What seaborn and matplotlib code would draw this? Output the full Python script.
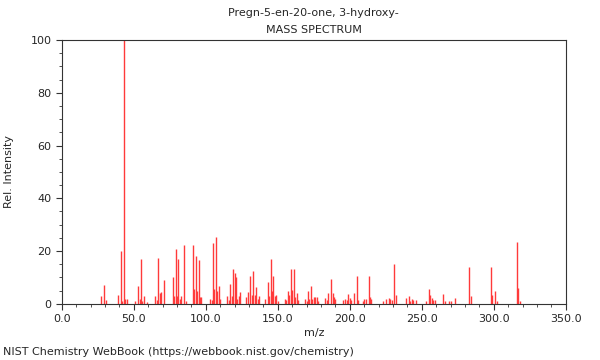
import matplotlib
matplotlib.use("Agg")
import matplotlib.pyplot as plt
import seaborn as sns
import pandas as pd
from matplotlib.ticker import MultipleLocator, FormatStrFormatter

# spectre de masa
mz = [27, 29, 31, 39, 41, 42, 43, 44, 45, 51, 53, 54, 55, 56, 57, 59,
      65, 66, 67, 68, 69, 71, 77, 78, 79, 80, 81, 82, 83, 85, 86,
      91, 92, 93, 94, 95, 96, 97, 103, 104, 105, 106, 107, 108, 109, 110,
      115, 116, 117, 118, 119, 120, 121, 122, 123, 124, 128, 129, 131, 132,
      133, 134, 135, 136, 137, 141, 143, 144, 145, 146, 147, 148, 149, 150,
      155, 156, 157, 158, 159, 160, 161, 162, 163, 164, 169, 170, 171, 172,
      173, 174, 175, 176, 177, 178, 183, 184, 185, 187, 188, 189, 190, 195,
      197, 198, 199, 200, 201, 203, 205, 206, 209, 210, 211, 213, 214, 215,
      223, 225, 227, 228, 229, 231, 232, 239, 241, 242, 243, 244, 246,
      253, 255, 256, 257, 258, 259, 265, 266, 269, 270, 273, 283, 284,
      298, 299, 301, 302, 316, 317, 318]
intens = [3.1, 7.2, 1.3, 3.2, 20.2, 1.2, 100.0, 2.0, 1.8, 1.0, 6.8, 2.0, 16.9, 1.2, 3.0, 0.8,
          3.0, 1.5, 17.3, 4.0, 4.6, 9.1, 10.0, 2.8, 20.7, 3.0, 16.9, 2.0, 3.0, 22.3, 1.0,
          22.3, 5.7, 18.2, 5.0, 16.7, 2.5, 2.5, 2.0, 1.5, 23.2, 5.7, 25.3, 5.0, 6.8, 2.0,
          3.0, 1.5, 7.4, 3.0, 13.3, 11.6, 10.0, 2.0, 3.0, 4.3, 2.5, 4.5, 10.6, 3.4,
          12.3, 3.4, 6.3, 2.0, 3.0, 2.0, 8.2, 3.0, 16.9, 4.8, 10.6, 3.0, 3.4, 1.0,
          1.9, 1.5, 4.9, 3.4, 13.3, 5.3, 13.1, 2.5, 4.0, 1.3, 2.0, 1.0, 4.7, 2.0,
          6.6, 2.0, 2.5, 2.5, 2.5, 1.0, 2.2, 1.5, 4.0, 9.5, 4.0, 2.5, 2.0, 1.6,
          2.0, 1.5, 3.9, 2.3, 1.5, 4.0, 10.7, 1.5, 1.0, 2.0, 2.0, 10.5, 2.5, 2.0,
          1.0, 1.9, 2.3, 2.0, 1.5, 15.2, 3.4, 2.3, 3.0, 1.2, 2.0, 1.5, 1.5,
          1.0, 5.7, 3.4, 2.3, 1.5, 1.5, 3.8, 1.0, 1.2, 1.0, 2.2, 14.1, 3.0,
          14.1, 3.4, 4.9, 1.1, 23.5, 6.0, 1.0]

spectru = pd.DataFrame({'mz': mz, 'intens': intens})

sns.set_style('ticks')
plt.rcParams['font.family'] = ['DejaVu Sans']

fig = plt.figure(figsize=(6, 3.6), dpi=100)
ax = fig.add_axes([0.103, 0.156, 0.84, 0.733])

ax.vlines(spectru['mz'], 0, spectru['intens'], color='#ff3a3a', linewidth=1.0)

ax.set_xlim(0, 350)
ax.set_ylim(0, 100)
ax.xaxis.set_major_locator(MultipleLocator(50))
ax.xaxis.set_minor_locator(MultipleLocator(10))
ax.yaxis.set_major_locator(MultipleLocator(20))
ax.yaxis.set_minor_locator(MultipleLocator(5))
ax.xaxis.set_major_formatter(FormatStrFormatter('%.1f'))
ax.tick_params(which='major', length=4, width=0.8, labelsize=8, color='#333333')
ax.tick_params(which='minor', length=2, width=0.6, color='#333333')
for s in ax.spines.values():
    s.set_visible(True)
    s.set_linewidth(0.8)
    s.set_color('#333333')

ax.set_xlabel('m/z', fontsize=8, labelpad=3)
ax.set_ylabel('Rel. Intensity', fontsize=8, labelpad=12)

fig.text(0.523, 0.965, 'Pregn-5-en-20-one, 3-hydroxy-', ha='center', va='center', fontsize=8)
fig.text(0.523, 0.917, 'MASS SPECTRUM', ha='center', va='center', fontsize=8)
fig.text(0.005, 0.022, 'NIST Chemistry WebBook (https://webbook.nist.gov/chemistry)',
         ha='left', va='center', fontsize=8)

fig.savefig('out.png', dpi=100)
